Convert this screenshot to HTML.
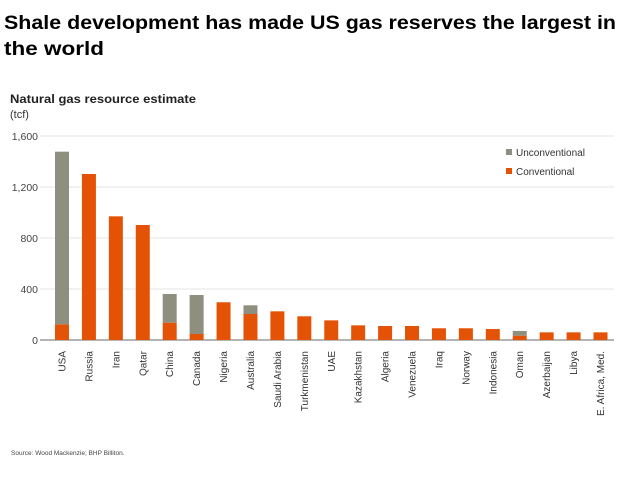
<!DOCTYPE html>
<html><head><meta charset="utf-8"><style>
body{margin:0;background:#fff;width:638px;height:479px;overflow:hidden}
svg{display:block;font-family:"Liberation Sans",sans-serif}
</style></head><body>
<svg id="chart" width="638" height="479">
<text x="4" y="29" font-size="19" font-weight="bold" textLength="612" lengthAdjust="spacingAndGlyphs">Shale development has made US gas reserves  the largest in</text>
<text x="4" y="55" font-size="19" font-weight="bold" textLength="100" lengthAdjust="spacingAndGlyphs">the world</text>
<text x="10" y="103" font-size="12" font-weight="bold" fill="#222" textLength="186" lengthAdjust="spacingAndGlyphs">Natural gas resource estimate</text>
<text x="10" y="118" font-size="11" fill="#333">(tcf)</text>
<g id="grid"></g><g id="bars"></g><g id="labels"></g>
<rect x="506" y="149" width="6" height="6" fill="#8f8f80"/>
<text x="516" y="156" font-size="10" fill="#333">Unconventional</text>
<rect x="506" y="168" width="6" height="6" fill="#e35205"/>
<text x="516" y="175" font-size="10" fill="#333">Conventional</text>
<text x="11" y="455" font-size="6.5" fill="#444">Source:  Wood Mackenzie; BHP Billiton.</text>
</svg>
<script>
const categories=["USA","Russia","Iran","Qatar","China","Canada","Nigeria","Australia","Saudi Arabia","Turkmenistan","UAE","Kazakhstan","Algeria","Venezuela","Iraq","Norway","Indonesia","Oman","Azerbaijan","Libya","E. Africa, Med."];
const conventional=[123,1302,970,902,136,47,296,204,225,186,154,115,110,110,92,92,86,34,60,60,60];
const unconventional=[1354,0,0,0,225,306,0,68,0,0,0,0,0,0,0,0,0,37,0,0,0];
const yTicks=[0,400,800,1200,1600];
const tickLabels=["0","400","800","1,200","1,600"];
const NS="http://www.w3.org/2000/svg";
const y0=340,yTop=136,yMax=1600;
function y(v){return y0-(v/yMax)*(y0-yTop);}
const cats=categories.slice(0,20).length===20?categories:categories;
// 20 bars actually drawn in reference: USA..E. Africa (Med. combined label)
const n=categories.length;
function xc(i){return 62+i*(538.5/(n-1));}
function mk(t,a){const e=document.createElementNS(NS,t);for(const k in a)e.setAttribute(k,a[k]);return e;}
const grid=document.getElementById('grid'),bars=document.getElementById('bars'),labels=document.getElementById('labels');
yTicks.forEach((v,i)=>{
 const l=mk('line',{x1:40,x2:614,y1:y(v),y2:y(v),stroke:v===0?'#888':'#e4e4e4','stroke-width':v===0?1.2:1});
 
 
 grid.appendChild(l);
 const t=mk('text',{x:38,y:y(v)+4,'text-anchor':'end','font-size':10.5,fill:'#444'});
 t.textContent=tickLabels[i];
 
 
 grid.appendChild(t);
});
categories.forEach((c,i)=>{
 const cx=xc(i),w=14;
 const r1=mk('rect',{x:cx-w/2,y:y(conventional[i]),width:w,height:y0-y(conventional[i]),fill:'#e35205'});
 
 
 bars.appendChild(r1);
 if(unconventional[i]>0){
  const top=conventional[i]+unconventional[i];
  const r2=mk('rect',{x:cx-w/2,y:y(top),width:w,height:y(conventional[i])-y(top),fill:'#8f8f80'});
  
  
  bars.appendChild(r2);
 }
 const t=mk('text',{x:0,y:0,'text-anchor':'end','font-size':10,fill:'#333',transform:`translate(${cx+3.5},351) rotate(-90)`});
 t.textContent=c;
 
 
 labels.appendChild(t);
});
</script>
</body></html>
